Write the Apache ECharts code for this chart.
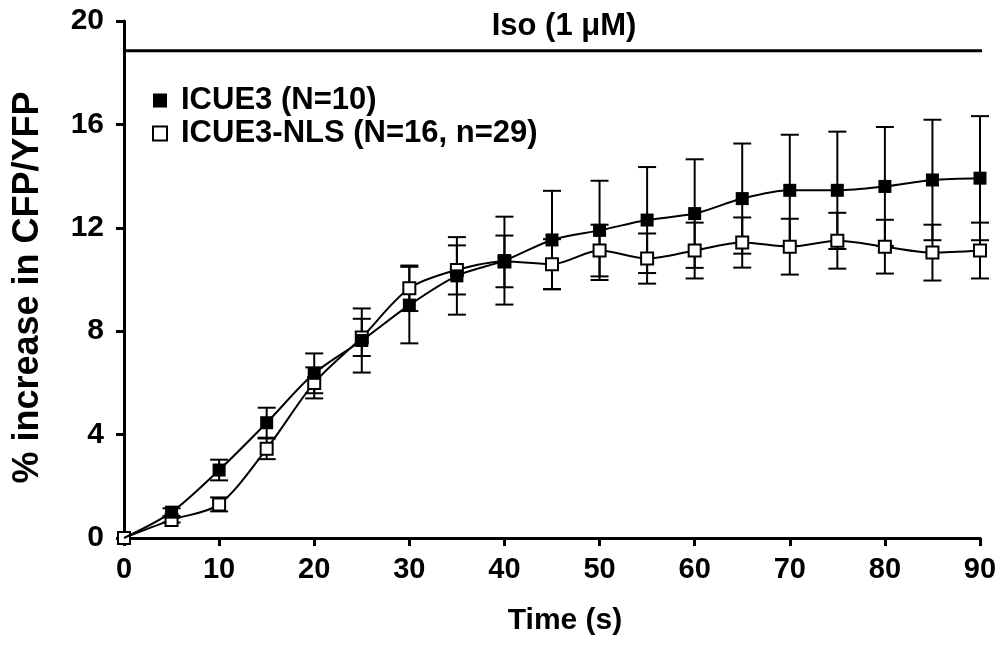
<!DOCTYPE html>
<html>
<head>
<meta charset="utf-8">
<script src="https://cdn.jsdelivr.net/npm/echarts@6/dist/echarts.min.js"></script>
<style>
html,body{margin:0;padding:0;background:#fff;}
#chart{width:1003px;height:652px;}
</style>
</head>
<body>
<div id="chart"></div>
<script>
const time = [0,5,10,15,20,25,30,35,40,45,50,55,60,65,70,75,80,85,90];
const icue3Mean = [0,1.0,2.63,4.46,6.37,7.64,9.01,10.14,10.73,11.53,11.9,12.3,12.55,13.13,13.45,13.45,13.6,13.85,13.92];
const icue3Err  = [0,0.15,0.4,0.58,0.77,1.24,1.48,1.5,1.7,1.9,1.92,2.05,2.1,2.13,2.15,2.27,2.3,2.33,2.4];
const nlsMean = [0,0.7,1.3,3.45,6.0,7.76,9.66,10.37,10.7,10.59,11.12,10.81,11.12,11.43,11.27,11.5,11.27,11.04,11.12];
const nlsErr  = [0,0.1,0.27,0.4,0.6,0.72,0.88,0.95,1.0,0.97,1.0,0.97,1.08,0.97,1.08,1.08,1.04,1.08,1.08];
const seriesNames = ['ICUE3 (N=10)','ICUE3-NLS (N=16, n=29)'];
const isoLabel = 'Iso (1 μM)';
const isoLevel = 18.85;
const isoSpan = [0, 90.8];
const xTitle = 'Time (s)';
const yTitle = '% increase in CFP/YFP';

const FONT = '"Liberation Sans", Arial, Helvetica, sans-serif';

function errData(mean, err){
  return time.map((t,i)=>[t, mean[i], err[i]]);
}
function errRender(params, api){
  const x = api.value(0), m = api.value(1), e = api.value(2);
  if (!e) return null;
  const top = api.coord([x, m+e]);
  const bot = api.coord([x, m-e]);
  const hw = 9;
  const st = {stroke:'#000', lineWidth:2, fill:null};
  return {type:'group', children:[
    {type:'line', shape:{x1:top[0],y1:top[1],x2:bot[0],y2:bot[1]}, style:st},
    {type:'line', shape:{x1:top[0]-hw,y1:top[1],x2:top[0]+hw,y2:top[1]}, style:st},
    {type:'line', shape:{x1:bot[0]-hw,y1:bot[1],x2:bot[0]+hw,y2:bot[1]}, style:st}
  ]};
}

const chart = echarts.init(document.getElementById('chart'), null, {renderer:'canvas'});
chart.setOption({
  animation:false,
  backgroundColor:'#fff',
  textStyle:{fontFamily:FONT},
  grid:{left:124,right:23,top:21,bottom:114,containLabel:false},
  legend:{
    data:[
      {name:seriesNames[0], itemStyle:{color:'#000',borderColor:'#000',borderWidth:0}},
      {name:seriesNames[1], itemStyle:{color:'#fff',borderColor:'#000',borderWidth:2}}
    ],
    orient:'vertical', left:147, top:80, icon:'rect',
    itemWidth:14, itemHeight:14, itemGap:2,
    textStyle:{fontSize:31,fontWeight:'bold',color:'#000',fontFamily:FONT,padding:[0,0,0,9]}
  },
  xAxis:{
    type:'value', min:0, max:90, interval:10,
    name:xTitle, nameLocation:'middle', nameGap:68,
    nameTextStyle:{fontSize:30,fontWeight:'bold',color:'#000',fontFamily:FONT,padding:[0,0,0,26]},
    axisLine:{lineStyle:{color:'#000',width:3}},
    axisTick:{show:true,inside:false,length:8,lineStyle:{color:'#000',width:3}},
    axisLabel:{fontSize:29,fontWeight:'bold',color:'#000',margin:17,fontFamily:FONT},
    splitLine:{show:false}
  },
  yAxis:{
    type:'value', min:0, max:20, interval:4,
    name:yTitle, nameLocation:'middle', nameGap:78, nameRotate:90,
    nameTextStyle:{fontSize:36,fontWeight:'bold',color:'#000',fontFamily:FONT,padding:[0,16,0,0]},
    axisLine:{show:true,lineStyle:{color:'#000',width:3}},
    axisTick:{show:true,inside:false,length:8,lineStyle:{color:'#000',width:3}},
    axisLabel:{fontSize:30,fontWeight:'bold',color:'#000',margin:20,fontFamily:FONT},
    splitLine:{show:false}
  },
  series:[
    {
      name:'iso', type:'line', clip:false, silent:true, z:1,
      symbol:'none',
      lineStyle:{color:'#000',width:3},
      data:[[isoSpan[0],isoLevel],[isoSpan[1],isoLevel]]
    },
    {
      name:'isoText', type:'scatter', silent:true, symbolSize:0, z:1,
      itemStyle:{opacity:1},
      data:[[ 45, isoLevel ]],
      label:{show:true,position:'top',distance:9,offset:[12,0],formatter:isoLabel,
        fontSize:31,fontWeight:'bold',color:'#000',opacity:1,fontFamily:FONT}
    },
    {
      name:'nlsErr', type:'custom', renderItem:errRender, z:2,
      data:errData(nlsMean,nlsErr)
    },
    {
      name:'icue3Err', type:'custom', renderItem:errRender, z:2,
      data:errData(icue3Mean,icue3Err)
    },
    {
      name:seriesNames[1], type:'line', smooth:0.3, z:3,
      symbol:'rect', symbolSize:12,
      lineStyle:{color:'#000',width:2},
      itemStyle:{color:'#fff',borderColor:'#000',borderWidth:2},
      data:time.map((t,i)=>[t,nlsMean[i]])
    },
    {
      name:seriesNames[0], type:'line', smooth:0.3, z:4,
      symbol:'rect', symbolSize:13,
      lineStyle:{color:'#000',width:2},
      itemStyle:{color:'#000',borderColor:'#000',borderWidth:0},
      data:time.map((t,i)=> i===0 ? {value:[t,icue3Mean[i]], symbol:'none'} : [t,icue3Mean[i]])
    }
  ]
});
</script>
</body>
</html>
